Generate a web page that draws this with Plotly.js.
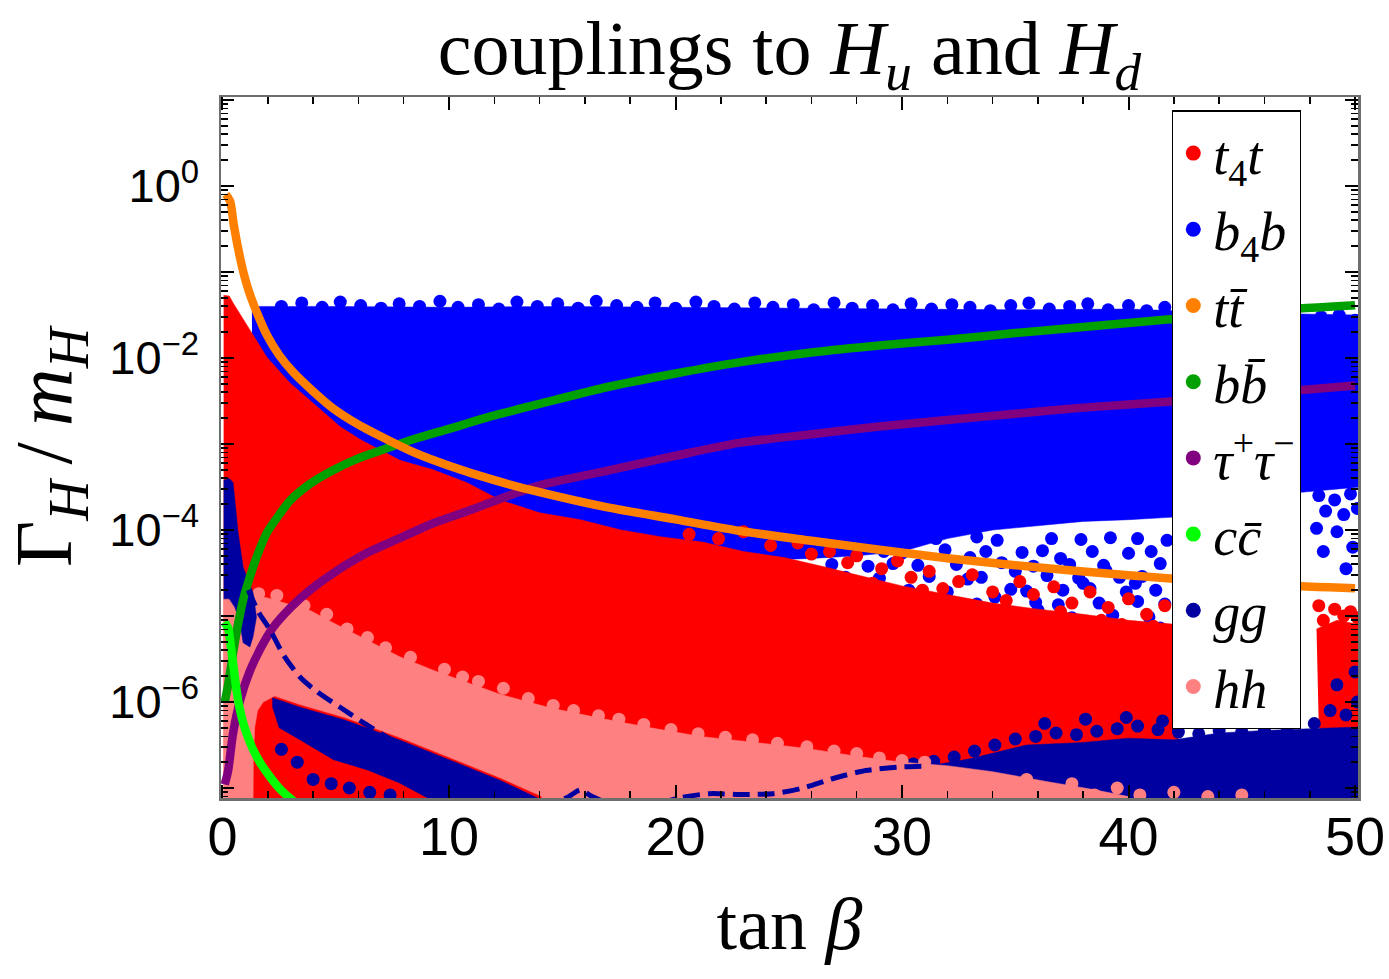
<!DOCTYPE html>
<html>
<head>
<meta charset="utf-8">
<script src="https://cdn.plot.ly/plotly-3.0.1.min.js"></script>
<style>html,body{margin:0;padding:0;background:#fff;}#chart{width:1389px;height:979px;}</style>
</head>
<body>
<div id="chart"></div>
<script>
// ---------- curves (x = tan beta, y = Gamma_H / m_H) ----------
const ttX = [0.15,0.34,0.5,0.77,1.0,1.21,1.6,1.96,2.5,3.11,4.0,4.88,6.0,7.26,8.5,10,12,14,17,20,22.8,26,29,32,35,38,41.7,45,50];
const ttY = [0.80,0.66,0.35,0.149,0.083,0.055,0.030,0.0185,0.0108,0.0069,0.0041,0.0026,0.00168,0.00113,0.00079,0.00056,0.00038,0.000275,0.000183,0.000133,0.000098,0.000075,0.000059,0.000047,0.000039,0.000033,0.0000275,0.0000238,0.000021];

const bbX = [0.1,0.25,0.45,0.64,0.9,1.2,1.5,1.96,2.5,2.98,3.9,4.9,6.0,7.3,8.5,10,12,14,17,20,22.8,26,29,32,35,38,41.7,45,50];
const bbY = [1.0e-6,1.6e-6,3.5e-6,6.9e-6,1.5e-5,2.8e-5,4.8e-5,9.3e-5,1.5e-4,2.2e-4,3.5e-4,5.0e-4,6.8e-4,9.0e-4,1.15e-3,1.5e-3,2.15e-3,2.93e-3,4.6e-3,6.6e-3,8.9e-3,0.0116,0.014,0.0163,0.0195,0.023,0.028,0.034,0.041];

const tauX = [0.1,0.25,0.47,0.8,1.21,1.7,2.24,3.0,3.86,5.0,6.37,7.8,9.3,10.8,12.25,14,17,20,22.8,26,29,32,35,38,41.7,45,50];
const tauY = [1.1e-7,1.6e-7,4.4e-7,1.1e-6,2.3e-6,4.3e-6,7.4e-6,1.25e-5,2.0e-5,3.3e-5,5.4e-5,8.0e-5,1.2e-4,1.65e-4,2.3e-4,3.3e-4,4.9e-4,7.3e-4,1.03e-3,1.3e-3,1.6e-3,1.9e-3,2.25e-3,2.65e-3,3.1e-3,3.7e-3,4.8e-3];

const ccX = [0.08,0.25,0.35,0.47,0.6,0.77,1.0,1.35,1.7,2.1,2.5,2.98,3.3];
const ccY = [8.5e-6,7.2e-6,4.8e-6,2.8e-6,1.5e-6,8.1e-7,4.8e-7,2.8e-7,1.9e-7,1.35e-7,1.0e-7,7.6e-8,6.5e-8];

const ggLineX = [1.14,1.6,2.1,2.7,3.42,4.2,5.19,6.2,7.26,8.3,9.3,10.5,11.8,12.6,13.5,14.5,15.3,15.8,16.3,17.2,19,20.3,21.5,23,24.3,25.5,27,28.4,29.9,31];
const ggLineY = [2.0e-5,1.1e-5,6.9e-6,3.5e-6,1.95e-6,1.3e-6,8.7e-7,5.8e-7,3.9e-7,2.8e-7,2.1e-7,1.55e-7,1.15e-7,9.5e-8,7.2e-8,6.5e-8,8.0e-8,9.5e-8,8.0e-8,6.5e-8,6.5e-8,7.8e-8,8.6e-8,8.4e-8,8.6e-8,9.8e-8,1.3e-7,1.6e-7,1.75e-7,1.8e-7];

// ---------- dense point clouds: outlines (x, log10 y) ----------
const b4bAreaX = [1.3,2.3,5,10,15,20,25,30,35,40,42,46,50.2,50.2,46,42,40,38,36,34,32,30,28,26,24,22,18,14,10,7,4,2.3,1.3];
const b4bAreaLog = [-1.40,-1.40,-1.40,-1.41,-1.40,-1.41,-1.42,-1.43,-1.44,-1.43,-1.45,-1.48,-1.50,-3.5,-3.6,-3.85,-3.88,-3.9,-3.95,-4.0,-4.1,-4.25,-4.3,-4.33,-4.35,-4.4,-4.3,-4.1,-3.8,-3.5,-3.0,-2.4,-1.8];

const t4tAreaX = [0.05,0.3,0.47,1.21,1.96,2.98,4.2,5.2,6.1,7.84,9.3,10.8,12.25,14.0,15.8,17.6,19.4,21.2,23,24.8,26.6,28.5,30,32,34,36,38,40,42.2,42.2,0.05];
const t4tAreaLog = [-1.27,-1.28,-1.36,-1.67,-1.99,-2.29,-2.57,-2.80,-2.95,-3.19,-3.30,-3.45,-3.65,-3.80,-3.88,-4.0,-4.08,-4.14,-4.25,-4.32,-4.43,-4.55,-4.65,-4.75,-4.85,-4.92,-4.98,-5.05,-5.1,-7.5,-7.5];
const t4tStripX = [48.3,49.2,50.2,50.2,49.3,48.4];
const t4tStripLog = [-5.15,-5.05,-5.1,-6.5,-6.45,-6.3];

const hhAreaX = [0.05,0.3,0.6,1.0,1.5,2.0,2.9,3.9,4.9,6.4,7.8,9.3,10.8,12.25,14.5,16.7,18.9,21.1,23.5,25.8,28,30,32,34,36.5,38.5,40,41,14.1,14.1,12.25,10.0,7.8,5.4,3.42,2.3,2.1,1.8,1.55,1.42,1.36,1.35,0.05];
const hhAreaLog = [-4.80,-4.74,-4.72,-4.74,-4.77,-4.79,-4.86,-4.94,-5.08,-5.28,-5.47,-5.63,-5.77,-5.91,-6.07,-6.19,-6.30,-6.40,-6.47,-6.54,-6.63,-6.70,-6.74,-6.81,-6.93,-7.02,-7.10,-7.5,-7.5,-7.1,-6.88,-6.64,-6.41,-6.18,-6.03,-5.93,-5.96,-6.0,-6.1,-6.3,-6.7,-7.5,-7.5];

const ggSliverX = [0.05,0.3,0.47,0.69,0.91,1.35,1.5,1.35,1.21,0.91,0.77,0.55,0.3,0.05];
const ggSliverLog = [-3.42,-3.40,-3.45,-4.03,-4.43,-4.73,-5.01,-5.24,-5.36,-5.31,-5.08,-4.9,-4.8,-4.8];

const ggWedgeX = [2.2,3.42,5.4,7.8,10.0,12.25,14.1,12,9.3,7.8,6.4,4.9,3.42,2.5,2.2];
const ggWedgeLog = [-5.95,-6.06,-6.21,-6.44,-6.67,-6.91,-7.14,-7.3,-7.15,-6.94,-6.79,-6.67,-6.44,-6.3,-6.05];

const ggCloudX = [27.3,28.5,29.5,31,33,35.5,38,40,42,44,46,48,50.2,50.2,27.3];
const ggCloudLog = [-7.0,-6.88,-6.82,-6.75,-6.66,-6.5,-6.47,-6.42,-6.44,-6.36,-6.33,-6.31,-6.29,-7.5,-7.5];

// ---------- individual scattered points (x, log10 y) ----------
const b4bEdgeX = [2.6,3.5,4.4,5.2,6.1,7.0,7.8,8.7,9.6,10.4,11.3,12.2,13.0,13.9,14.8,15.7,16.5,17.4,18.3,19.1,20.0,20.9,21.7,22.6,23.5,24.3,25.2,26.1,27.0,27.8,28.7,29.6,30.4,31.3,32.2,33.0,33.9,34.8,35.6,36.5,37.4,38.2,39.1,40.0,40.8,41.6,48.5,49.3,50.0];
const b4bEdgeLog = [-1.40,-1.36,-1.41,-1.35,-1.39,-1.42,-1.37,-1.40,-1.34,-1.41,-1.38,-1.43,-1.35,-1.40,-1.37,-1.42,-1.34,-1.39,-1.41,-1.36,-1.42,-1.35,-1.40,-1.43,-1.36,-1.41,-1.38,-1.44,-1.36,-1.42,-1.39,-1.44,-1.37,-1.43,-1.38,-1.41,-1.45,-1.39,-1.36,-1.43,-1.40,-1.37,-1.44,-1.39,-1.45,-1.41,-1.52,-1.50,-1.56];

const b4bDotX = [
  26.1,27.1,28.3,30.4,31.5,33.3,34.2,36.6,37.9,39.2,40.4,41.7,
  25.5,26.4,27.9,29.2,30.0,31.9,33.7,35.3,36.2,38.4,40.0,41.0,
  26.9,28.5,29.6,30.7,32.4,34.4,35.8,37.4,38.9,41.4,
  27.5,29.0,31.2,32.9,33.5,36.4,37.8,39.6,40.6,
  30.3,32.0,34.8,35.5,37.1,38.3,39.9,41.2,
  31.6,33.3,35.9,36.9,38.7,40.4,41.6,
  34.5,37.5,39.3,40.9,
  36.2,38.9,41.4,
  33.0,35.0,37.0,39.0,40.3,34.1,36.0,38.0,
  48.4,49.1,49.8,48.7,49.5,50.1,48.3,49.2,49.9,48.6,49.6];
const b4bDotLog = [
  -4.1,-4.12,-4.09,-4.11,-4.1,-4.08,-4.12,-4.1,-4.11,-4.09,-4.1,-4.12,
  -4.25,-4.24,-4.26,-4.25,-4.27,-4.23,-4.25,-4.26,-4.24,-4.25,-4.27,-4.25,
  -4.4,-4.42,-4.39,-4.41,-4.4,-4.38,-4.42,-4.4,-4.41,-4.39,
  -4.55,-4.56,-4.54,-4.57,-4.55,-4.53,-4.56,-4.55,-4.54,
  -4.7,-4.72,-4.69,-4.71,-4.7,-4.68,-4.72,-4.7,
  -4.85,-4.86,-4.84,-4.87,-4.85,-4.83,-4.86,
  -5.0,-5.02,-4.99,-5.01,
  -5.15,-5.16,-5.14,
  -4.32,-4.48,-4.33,-4.47,-4.62,-4.78,-4.93,-4.62,
  -3.6,-3.65,-3.58,-3.78,-3.82,-3.75,-3.98,-4.02,-4.2,-4.25,-4.45];

const t4tDotX = [
  20.6,21.9,23.0,24.2,25.4,26.0,26.8,27.6,28.0,29.1,29.8,30.4,31.2,32.5,31.8,33.1,34.0,35.2,
  34.6,35.8,36.7,37.5,37.0,38.3,39.1,40.0,38.8,39.7,40.8,41.6,41.1,33.8,36.2,30.9,28.7,
  48.4,49.1,49.8,48.6,49.5,50.1,48.5,49.4,50.1,49.0,48.6,49.8];
const t4tDotLog = [
  -4.05,-4.1,-4.02,-4.18,-4.15,-4.28,-4.25,-4.38,-4.3,-4.45,-4.36,-4.55,-4.48,-4.6,-4.68,-4.52,-4.72,-4.6,
  -4.82,-4.75,-4.66,-4.85,-4.95,-4.72,-4.9,-4.8,-5.05,-5.1,-4.98,-4.88,-5.12,-4.95,-5.0,-4.7,-4.62,
  -4.88,-4.92,-4.95,-5.05,-5.0,-5.02,-6.4,-6.45,-6.5,-6.55,-6.5,-6.58];

const ggDotX = [27.0,27.9,28.7,29.6,30.5,31.4,32.3,33.2,34.1,35.0,35.9,36.8,37.7,38.6,39.5,40.4,41.3,42.2,43.1,44.0,45.0,46.0,47.0,48.2,48.9,49.6,50.1,49.2,50.0,22.5,23.6,24.8,25.9,26.5,36.3,38.1,39.9,41.5];
const ggDotLog = [-6.95,-6.9,-6.84,-6.76,-6.72,-6.69,-6.64,-6.57,-6.5,-6.43,-6.4,-6.36,-6.38,-6.34,-6.31,-6.28,-6.32,-6.35,-6.37,-6.33,-6.35,-6.33,-6.3,-6.25,-6.1,-6.15,-6.0,-5.8,-5.65,-7.0,-6.95,-7.02,-6.9,-7.05,-6.25,-6.2,-6.18,-6.22];
const ggWedgeDotX = [2.6,3.3,4.0,4.8,5.6,6.5,7.4];
const ggWedgeDotLog = [-6.55,-6.7,-6.9,-6.95,-7.0,-7.05,-7.08];

const hhEdgeX = [1.0,1.6,2.4,3.6,4.6,5.5,6.4,7.2,8.3,9.8,10.6,11.3,12.4,13.5,14.6,15.5,16.6,17.5,18.6,19.8,21.0,22.2,23.4,24.5,25.8,27,28,29,30,31];
const hhEdgeLog = [-4.72,-4.74,-4.76,-4.88,-4.98,-5.15,-5.25,-5.37,-5.48,-5.62,-5.71,-5.76,-5.84,-5.96,-6.04,-6.1,-6.16,-6.2,-6.26,-6.32,-6.37,-6.41,-6.44,-6.48,-6.52,-6.57,-6.6,-6.65,-6.68,-6.7];
const hhDotX = [33.5,34.5,35.5,36.5,37.5,38.5,39.5,40.5,42,43.5,45];
const hhDotLog = [-6.95,-7.05,-6.9,-7.05,-6.95,-7.08,-7.0,-7.08,-7.05,-7.1,-7.08];

// ---------- axis ticks ----------
const yTickVals = [1e-7,1e-6,1e-5,1e-4,1e-3,1e-2,1e-1,1,10];
const yTickText = ['', '10<sup>−6</sup>', '', '10<sup>−4</sup>', '', '10<sup>−2</sup>', '', '10<sup>0</sup>', ''];
const yMinorVals = [];
for (let p = -8; p <= 1; p++) for (let m = 2; m <= 9; m++) yMinorVals.push(m * Math.pow(10, p));

// ---------- colours and legend ----------
const names = ['<i>t</i><sub>4</sub><i>t</i>', '<i>b</i><sub>4</sub><i>b</i>', '<i>t</i><i>t̄</i>', '<i>b</i><i>b̄</i>',
  '<i>τ</i><sup>+</sup><i>τ</i><sup>−</sup>', '<i>c</i><i>c̄</i>', '<i>g</i><i>g</i>', '<i>h</i><i>h</i>'];
const colors = ['#ff0000', '#0000ff', '#ff8000', '#00a000', '#800080', '#00ff00', '#0000a0', '#ff8080'];

const pw = a => a.map(v => Math.pow(10, v));
function area(xs, logs, c) {
  return {type:'scatter', mode:'lines', x:xs, y:pw(logs), fill:'toself', fillcolor:c,
    line:{width:0.5, color:c}, hoverinfo:'skip', showlegend:false};
}
function dots(xs, logs, c) {
  return {type:'scatter', mode:'markers', x:xs, y:pw(logs), marker:{size:13, color:c, line:{width:0}},
    hoverinfo:'skip', showlegend:false};
}
function curve(xs, ys, c, w, dash) {
  return {type:'scatter', mode:'lines', x:xs, y:ys, line:{color:c, width:w, dash:dash || 'solid', shape:'spline', smoothing:0.7},
    hoverinfo:'skip', showlegend:false};
}

const traces = [
  area(b4bAreaX, b4bAreaLog, colors[1]),
  dots(b4bEdgeX, b4bEdgeLog, colors[1]),
  dots(b4bDotX, b4bDotLog, colors[1]),
  area(t4tAreaX, t4tAreaLog, colors[0]),
  area(t4tStripX, t4tStripLog, colors[0]),
  dots(t4tDotX, t4tDotLog, colors[0]),
  area(ggCloudX, ggCloudLog, colors[6]),
  dots(ggDotX, ggDotLog, colors[6]),
  area(hhAreaX, hhAreaLog, colors[7]),
  dots(hhEdgeX, hhEdgeLog, colors[7]),
  area(ggWedgeX, ggWedgeLog, colors[6]),
  area(ggSliverX, ggSliverLog, colors[6]),
  dots(ggWedgeDotX, ggWedgeDotLog, colors[6]),
  dots(hhDotX, hhDotLog, colors[7]),
  curve(tauX, tauY, colors[4], 8.5),
  curve(bbX, bbY, colors[3], 8.5),
  curve(ttX, ttY, colors[2], 8.5),
  curve(ccX, ccY, colors[5], 8.5),
  curve(ggLineX, ggLineY, colors[6], 5, '17px,8px')
];
names.forEach((n, i) => {
  traces.push({type:'scatter', mode:'markers', x:[null], y:[null], name:n, legendgroup:'g'+i,
    marker:{size:15, color:colors[i]}, showlegend:true, hoverinfo:'skip'});
});

const frame = '#6e6e6e';
const layout = {
  width:1389, height:979,
  margin:{l:221, r:31, t:97, b:181},
  paper_bgcolor:'#fff', plot_bgcolor:'#fff',
  font:{family:'Liberation Sans, Arial, sans-serif', color:'#000'},
  title:{text:'couplings to <i>H</i><sub><i>u</i></sub> and <i>H</i><sub><i>d</i></sub>',
    font:{family:'Liberation Serif, serif', size:76, color:'#000'},
    x:0.5, xref:'paper', xanchor:'center', y:0.952, yref:'container', yanchor:'middle'},
  xaxis:{range:[-0.066, 50.13], showgrid:false, zeroline:false, showline:true, linecolor:frame, linewidth:2.5,
    mirror:'allticks', ticks:'inside', ticklen:13, tickwidth:2, tickcolor:'#000', tick0:0, dtick:10,
    tickfont:{family:'Liberation Sans, Arial, sans-serif', size:54, color:'#000'}, ticklabelstandoff:-10,
    minor:{ticks:'inside', ticklen:7, tickwidth:1.5, tickcolor:'#000', tick0:0, dtick:2, showgrid:false},
    title:{text:'tan <i>β</i>', font:{family:'Liberation Serif, serif', size:74, color:'#000'}, standoff:32}},
  yaxis:{type:'log', range:[-7.116, 1.035], showgrid:false, zeroline:false, showline:true, linecolor:frame, linewidth:2.5,
    mirror:'allticks', ticks:'inside', ticklen:13, tickwidth:2, tickcolor:'#000',
    tickmode:'array', tickvals:yTickVals, ticktext:yTickText,
    tickfont:{family:'Liberation Sans, Arial, sans-serif', size:47, color:'#000'}, ticklabelstandoff:10,
    minor:{ticks:'inside', ticklen:7, tickwidth:1.5, tickcolor:'#000', tickmode:'array', tickvals:yMinorVals, showgrid:false},
    title:{text:'Γ<sub><i>H</i></sub>\u2009/\u2009<i>m</i><sub><i>H</i></sub>', font:{family:'Liberation Serif, serif', size:80, color:'#000'}, standoff:26}},
  legend:{x:0.8365, y:0.981, xanchor:'left', yanchor:'top', bgcolor:'#fff', bordercolor:'#000', borderwidth:1.2,
    font:{family:'Liberation Serif, serif', size:54, color:'#000'}, traceorder:'grouped', tracegroupgap:3, itemwidth:30},
  showlegend:true
};
Plotly.newPlot('chart', traces, layout, {displayModeBar:false, staticPlot:true});
</script>
</body>
</html>
